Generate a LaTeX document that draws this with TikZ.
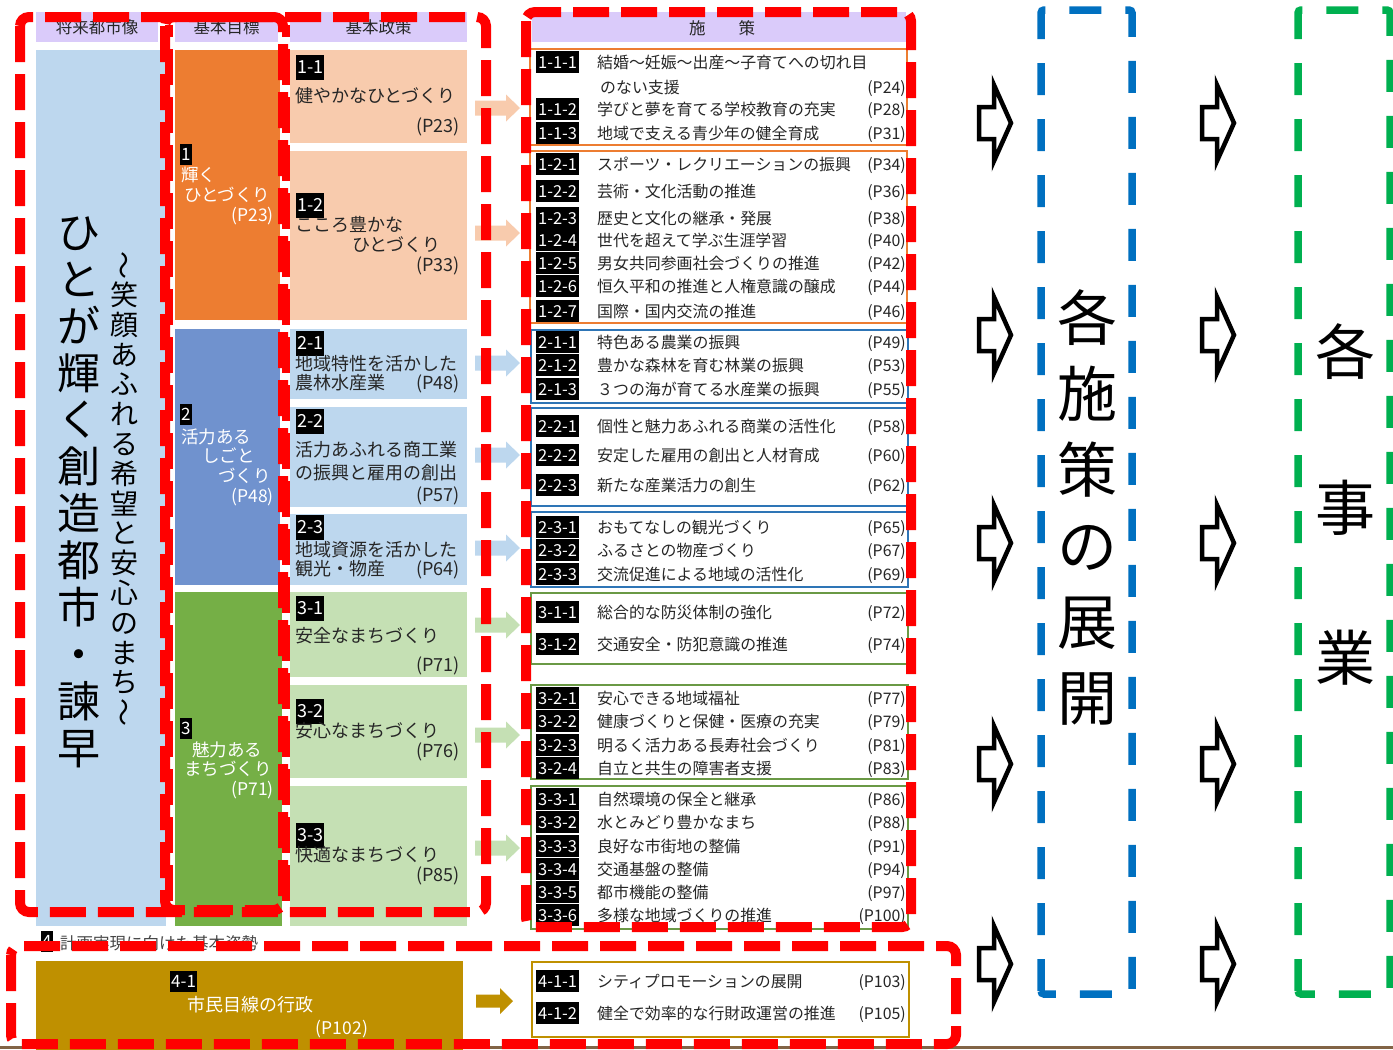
\documentclass[tikz,border=0pt]{standalone}
\usepackage{fontspec}
\setmainfont{Noto Sans CJK JP}
\usepackage{graphicx}
\definecolor{hdrc}{RGB}{218,203,250}
\definecolor{vis}{RGB}{189,215,238}
\definecolor{gone}{RGB}{237,125,49}
\definecolor{gtwo}{RGB}{112,146,206}
\definecolor{gthree}{RGB}{117,175,70}
\definecolor{peach}{RGB}{248,203,173}
\definecolor{lblue}{RGB}{189,215,238}
\definecolor{lgreen}{RGB}{197,224,180}
\definecolor{gold}{RGB}{191,144,0}
\definecolor{rred}{RGB}{255,0,0}
\definecolor{bdash}{RGB}{0,112,192}
\definecolor{gdash}{RGB}{0,176,80}
\definecolor{obox}{RGB}{237,125,49}
\definecolor{bbox}{RGB}{46,117,182}
\definecolor{grbox}{RGB}{106,153,69}
\definecolor{txt}{RGB}{38,38,38}
\definecolor{gtxt}{RGB}{70,70,70}
\definecolor{brn}{RGB}{130,100,70}
\newcommand\sitem[5]{%
  \node[ibadge] (#1b) at (536,#2) {#3};
  \node[itext] (#1t) at (597,#2) {#4};
  \node[ipage] (#1p) at (906,#2) {#5};}
\newcommand\parr[2]{\fill[#2] (475,{#1-7.5}) -- (506,{#1-7.5}) -- (506,{#1-13.5}) -- (520,#1) -- (506,{#1+13.5}) -- (506,{#1+7.5}) -- (475,{#1+7.5}) -- cycle;}
\newcommand\harr[2]{\draw[black,line width=4.5pt,fill=white,line join=miter] ({#1+2},{#2-16}) -- ({#1+17},{#2-16}) -- ({#1+17},{#2-38}) -- ({#1+34},#2) -- ({#1+17},{#2+38}) -- ({#1+17},{#2+16}) -- ({#1+2},{#2+16}) -- cycle;}
\begin{document}
\begin{tikzpicture}[x=1pt,y=-1pt,
  area/.style={draw=none,inner sep=0pt,outer sep=0pt,anchor=north west},
  hdr/.style={area,fill=hdrc,font=\fontsize{16.5}{16.5}\selectfont,text=txt},
  bigv/.style={font=\fontsize{43}{43}\selectfont,inner sep=0pt,text height=37.8pt,text depth=5.2pt,text=black},
  smallv/.style={font=\fontsize{28}{28}\selectfont,inner sep=0pt,text height=24.6pt,text depth=3.4pt,text=black},
  gtext/.style={font=\fontsize{17.5}{17.5}\selectfont,text=white,inner sep=0pt,anchor=west,text height=15.4pt,text depth=2.1pt},
  gtextr/.style={gtext,anchor=east},
  gbadge/.style={fill=black,text=white,font=\fontsize{17}{17}\selectfont,inner xsep=1pt,inner ysep=2pt,anchor=west,text height=15pt,text depth=2pt},
  pbadge/.style={fill=black,text=white,font=\fontsize{18}{18}\selectfont,inner xsep=1pt,inner ysep=3.5pt,anchor=west,text height=15.8pt,text depth=2.2pt},
  ptext/.style={font=\fontsize{18}{18}\selectfont,text=txt,inner sep=0pt,anchor=west,text height=15.8pt,text depth=2.2pt},
  ptextr/.style={ptext,anchor=east},
  ibadge/.style={fill=black,text=white,font=\fontsize{16.5}{16.5}\selectfont,inner xsep=2pt,inner ysep=3pt,anchor=west,text height=14.3pt,text depth=2pt},
  itext/.style={font=\fontsize{15.9}{15.9}\selectfont,text=txt,inner sep=0pt,anchor=west,text height=14pt,text depth=1.9pt},
  ipage/.style={itext,anchor=east},
  grp/.style={line width=1.5pt},
  bigbox/.style={font=\fontsize{60}{60}\selectfont,inner sep=0pt,text height=52.8pt,text depth=7.2pt,text=black},
  reddash/.style={draw=rred,line width=10pt,dash pattern=on 36pt off 12pt,rounded corners=9pt},
  bluedash/.style={draw=bdash,line width=7.5pt,dash pattern=on 32pt off 24pt,rounded corners=3pt},
  greendash/.style={draw=gdash,line width=7.5pt,dash pattern=on 32pt off 24pt,rounded corners=3pt}]
\useasboundingbox (0,0) rectangle (1393,1050);
\fill[white] (0,0) rectangle (1393,1050);
\draw[brn,line width=2.5pt] (0,1047.5) -- (1393,1047.5);
% headers
\node[hdr,minimum width=122pt,minimum height=30pt] (h1) at (36,12) {将来都市像};
\node[hdr,minimum width=103pt,minimum height=30pt] (h2) at (175,12) {基本目標};
\node[hdr,minimum width=177pt,minimum height=30pt] (h3) at (290,12) {基本政策};
\node[area,fill=hdrc,minimum width=374pt,minimum height=30pt] (h4) at (532,12) {};
\node[font=\fontsize{16.5}{16.5}\selectfont,text=txt,inner sep=0pt] (h4t) at (722,28) {施　　策};
% vision column
\node[area,fill=vis,minimum width=130pt,minimum height=876pt] (vis) at (36,50) {};
\foreach \c [count=\i] in {ひ,と,が,輝,く,創,造,都,市,・,諫,早}
  \node[bigv] (v\i) at (78.5,{232+(\i-1)*46.9}) {\c};
\node[smallv,rotate=90] (s1) at (124,265) {～};
\foreach \c [count=\i from 2] in {笑,顔,あ,ふ,れ,る,希,望,と,安,心,の,ま,ち}
  \node[smallv] (s\i) at (124,{265+(\i-1)*29.8}) {\c};
\node[smallv,rotate=90] (s16) at (124,{265+15*29.8}) {～};
% goals
\node[area,fill=gone,minimum width=105pt,minimum height=270pt] (g1) at (175,50) {};
\node[area,fill=gtwo,minimum width=105pt,minimum height=256pt] (g2) at (175,329) {};
\node[area,fill=gthree,minimum width=107pt,minimum height=334pt] (g3) at (175,592) {};
\node[gbadge] (g1b) at (180,154) {1};
\node[gtext] (g1a) at (181,175) {輝く};
\node[gtext] (g1c) at (184,195) {ひとづくり};
\node[gtextr] (g1p) at (274,215) {(P23)};
\node[gbadge] (g2b) at (180,414) {2};
\node[gtext] (g2a) at (181,437) {活力ある};
\node[gtext] (g2c) at (202,456) {しごと};
\node[gtext] (g2d) at (218,476) {づくり};
\node[gtextr] (g2p) at (274,496) {(P48)};
\node[gbadge] (g3b) at (180,728) {3};
\node[gtext] (g3a) at (192,750) {魅力ある};
\node[gtext] (g3c) at (184,769) {まちづくり};
\node[gtextr] (g3p) at (274,789) {(P71)};
% policies
\node[area,fill=peach,minimum width=177pt,minimum height=93pt] (p11) at (290,50) {};
\node[area,fill=peach,minimum width=177pt,minimum height=169pt] (p12) at (290,151) {};
\node[area,fill=lblue,minimum width=177pt,minimum height=70pt] (p21) at (290,329) {};
\node[area,fill=lblue,minimum width=177pt,minimum height=100pt] (p22) at (290,407) {};
\node[area,fill=lblue,minimum width=177pt,minimum height=71pt] (p23) at (290,514) {};
\node[area,fill=lgreen,minimum width=177pt,minimum height=85pt] (p31) at (290,592) {};
\node[area,fill=lgreen,minimum width=177pt,minimum height=93pt] (p32) at (290,685) {};
\node[area,fill=lgreen,minimum width=177pt,minimum height=140pt] (p33) at (290,786) {};
\node[pbadge] (p11b) at (296,67) {1-1};
\node[ptext] (p11a) at (295,96) {健やかなひとづくり};
\node[ptextr] (p11p) at (460,126) {(P23)};
\node[pbadge] (p12b) at (296,205) {1-2};
\node[ptext] (p12a) at (295,225) {こころ豊かな};
\node[ptext] (p12c) at (352,245) {ひとづくり};
\node[ptextr] (p12p) at (460,265) {(P33)};
\node[pbadge] (p21b) at (296,343) {2-1};
\node[ptext] (p21a) at (295,364) {地域特性を活かした};
\node[ptext] (p21c) at (295,383) {農林水産業};
\node[ptextr] (p21p) at (460,383) {(P48)};
\node[pbadge] (p22b) at (296,421) {2-2};
\node[ptext] (p22a) at (295,450) {活力あふれる商工業};
\node[ptext] (p22c) at (295,473) {の振興と雇用の創出};
\node[ptextr] (p22p) at (460,495) {(P57)};
\node[pbadge] (p23b) at (296,527) {2-3};
\node[ptext] (p23a) at (295,550) {地域資源を活かした};
\node[ptext] (p23c) at (295,569) {観光・物産};
\node[ptextr] (p23p) at (460,569) {(P64)};
\node[pbadge] (p31b) at (296,608) {3-1};
\node[ptext] (p31a) at (295,636) {安全なまちづくり};
\node[ptextr] (p31p) at (460,665) {(P71)};
\node[pbadge] (p32b) at (296,711) {3-2};
\node[ptext] (p32a) at (295,731) {安心なまちづくり};
\node[ptextr] (p32p) at (460,751) {(P76)};
\node[pbadge] (p33b) at (296,835) {3-3};
\node[ptext] (p33a) at (295,855) {快適なまちづくり};
\node[ptextr] (p33p) at (460,875) {(P85)};
% pastel arrows
\parr{108}{peach}
\parr{233}{peach}
\parr{363}{lblue}
\parr{455}{lblue}
\parr{548}{lblue}
\parr{625}{lgreen}
\parr{735}{lgreen}
\parr{848}{lgreen}
% group boxes
\draw[grp,obox] (530,49) rectangle (907,145);
\draw[grp,obox] (530,151) rectangle (907,323);
\draw[grp,bbox] (531,330) rectangle (908,403);
\draw[grp,bbox] (531,408) rectangle (908,506);
\draw[grp,bbox] (531,512) rectangle (908,587);
\draw[grp,grbox] (531,593) rectangle (908,664);
\draw[grp,grbox] (531,685) rectangle (908,779);
\draw[grp,grbox] (531,786) rectangle (908,929);
\draw[grp,gold] (532,962) rectangle (909,1037);
% items
\sitem{a1}{62}{1-1-1}{結婚～妊娠～出産～子育てへの切れ目}{}
\node[itext] (a1c) at (600,87) {のない支援};
\node[ipage] (a1q) at (906,87) {(P24)};
\sitem{a2}{109}{1-1-2}{学びと夢を育てる学校教育の充実}{(P28)}
\sitem{a3}{133}{1-1-3}{地域で支える青少年の健全育成}{(P31)}
\sitem{b1}{164}{1-2-1}{スポーツ・レクリエーションの振興}{(P34)}
\sitem{b2}{191}{1-2-2}{芸術・文化活動の推進}{(P36)}
\sitem{b3}{218}{1-2-3}{歴史と文化の継承・発展}{(P38)}
\sitem{b4}{240}{1-2-4}{世代を超えて学ぶ生涯学習}{(P40)}
\sitem{b5}{263}{1-2-5}{男女共同参画社会づくりの推進}{(P42)}
\sitem{b6}{286}{1-2-6}{恒久平和の推進と人権意識の醸成}{(P44)}
\sitem{b7}{311}{1-2-7}{国際・国内交流の推進}{(P46)}
\sitem{c1}{342}{2-1-1}{特色ある農業の振興}{(P49)}
\sitem{c2}{365}{2-1-2}{豊かな森林を育む林業の振興}{(P53)}
\sitem{c3}{389}{2-1-3}{３つの海が育てる水産業の振興}{(P55)}
\sitem{d1}{426}{2-2-1}{個性と魅力あふれる商業の活性化}{(P58)}
\sitem{d2}{455}{2-2-2}{安定した雇用の創出と人材育成}{(P60)}
\sitem{d3}{485}{2-2-3}{新たな産業活力の創生}{(P62)}
\sitem{e1}{527}{2-3-1}{おもてなしの観光づくり}{(P65)}
\sitem{e2}{550}{2-3-2}{ふるさとの物産づくり}{(P67)}
\sitem{e3}{574}{2-3-3}{交流促進による地域の活性化}{(P69)}
\sitem{f1}{612}{3-1-1}{総合的な防災体制の強化}{(P72)}
\sitem{f2}{644}{3-1-2}{交通安全・防犯意識の推進}{(P74)}
\sitem{h1x}{698}{3-2-1}{安心できる地域福祉}{(P77)}
\sitem{h2x}{721}{3-2-2}{健康づくりと保健・医療の充実}{(P79)}
\sitem{h3x}{745}{3-2-3}{明るく活力ある長寿社会づくり}{(P81)}
\sitem{h4x}{768}{3-2-4}{自立と共生の障害者支援}{(P83)}
\sitem{k1}{799}{3-3-1}{自然環境の保全と継承}{(P86)}
\sitem{k2}{822}{3-3-2}{水とみどり豊かなまち}{(P88)}
\sitem{k3}{846}{3-3-3}{良好な市街地の整備}{(P91)}
\sitem{k4}{869}{3-3-4}{交通基盤の整備}{(P94)}
\sitem{k5}{892}{3-3-5}{都市機能の整備}{(P97)}
\sitem{k6}{915}{3-3-6}{多様な地域づくりの推進}{(P100)}
\sitem{m1}{981}{4-1-1}{シティプロモーションの展開}{(P103)}
\sitem{m2}{1013}{4-1-2}{健全で効率的な行財政運営の推進}{(P105)}
% basic stance 4
\node[gbadge] (f4b) at (41,941) {4};
\node[font=\fontsize{16.5}{16.5}\selectfont,text=gtxt,inner sep=0pt,anchor=west,text height=14.5pt,text depth=2pt] (f4t) at (60,943) {計画実現に向けた基本姿勢};
\node[area,fill=gold,minimum width=427pt,minimum height=89pt] (g4) at (36,961) {};
\node[gbadge] (g4b) at (170,981) {4-1};
\node[font=\fontsize{18}{18}\selectfont,text=white,inner sep=0pt,text height=15.8pt,text depth=2.2pt] (g4a) at (250,1005) {市民目線の行政};
\node[font=\fontsize{17.5}{17.5}\selectfont,text=white,inner sep=0pt,text height=15.4pt,text depth=2.1pt] (g4p) at (342,1028) {(P102)};
\fill[gold] (476,994.5) -- (500,994.5) -- (500,988) -- (513,1001) -- (500,1014) -- (500,1007.5) -- (476,1007.5) -- cycle;
% hollow arrows
\foreach \yy in {123,335,543,764,964} {\harr{977}{\yy} \harr{1200}{\yy}}
% right boxes
\draw[bluedash] (1041,994) -- (1041,10) -- (1132,10) -- (1132,994) -- cycle;
\draw[greendash] (1298,994) -- (1298,10) -- (1390,10) -- (1390,994) -- cycle;
\foreach \c [count=\i] in {各,施,策,の,展,開}
  \node[bigbox] (r\i) at (1087,{318+(\i-1)*76}) {\c};
\node[bigbox] (q1) at (1345,352) {各};
\node[bigbox] (q2) at (1345,508) {事};
\node[bigbox] (q3) at (1345,658) {業};
% red dashed frames
\draw[reddash] (20,17) rectangle (486,912);
\draw[reddash] (165,17) rectangle (283,910);
\draw[draw=rred,line width=8pt,dash pattern=on 36pt off 12pt,dash phase=24pt] (169,25) -- (169,902);
\draw[draw=rred,line width=8pt,dash pattern=on 36pt off 12pt,dash phase=24pt] (286,25) -- (286,902);
\draw[reddash] (526,12) rectangle (911,927);
\draw[reddash] (11,946) rectangle (956,1044);
\end{tikzpicture}
\end{document}
